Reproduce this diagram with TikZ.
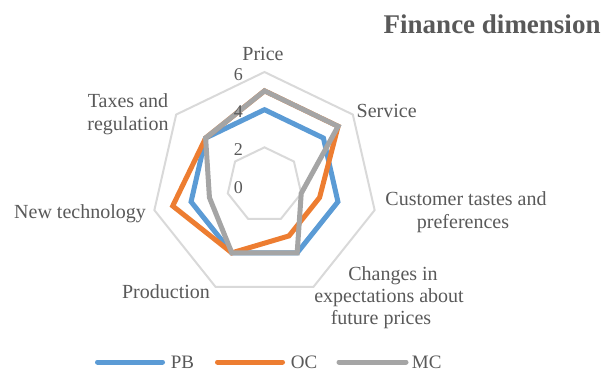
\documentclass[tikz,border=0pt]{standalone}
\usepackage{fontspec}
\setmainfont{Liberation Serif}
\definecolor{pbc}{HTML}{5B9BD5}
\definecolor{occ}{HTML}{ED7D31}
\definecolor{mcc}{HTML}{A5A5A5}
\definecolor{txt}{HTML}{595959}
\definecolor{gridc}{HTML}{D9D9D9}
\begin{document}
\begin{tikzpicture}[x=1pt,y=-1pt,
  gridline/.style={draw=gridc,line width=2pt,line join=miter},
  series/.style={line width=5pt,line join=miter,miter limit=3},
  lbl/.style={font=\fontsize{20}{23}\selectfont,text=txt,inner sep=0pt,anchor=base},
  tick/.style={font=\fontsize{18}{20}\selectfont,text=txt,inner sep=0pt,anchor=base},
  leg/.style={line width=5pt,line cap=round},
  legtxt/.style={font=\fontsize{19}{22}\selectfont,text=txt,inner sep=0pt,anchor=base west}]
\useasboundingbox (0,0) rectangle (604,372);
\def\U{18.83}
\begin{scope}[shift={(264.5,185)}]
  \foreach \r in {2,4,6}
    \draw[gridline] (-90:{\r*\U}) \foreach \k in {1,...,6}{ -- ({-90+\k*360/7}:{\r*\U}) } -- cycle;
  % PB
  \draw[series,draw=pbc] (-90:{4*\U}) \foreach \v [count=\k] in {4,4,4,4,4,4}{ -- ({-90+\k*360/7}:{\v*\U}) } -- cycle;
  % OC
  \draw[series,draw=occ] (-90:{5*\U}) \foreach \v [count=\k] in {5,3,3,4,5,4}{ -- ({-90+\k*360/7}:{\v*\U}) } -- cycle;
  % MC
  \draw[series,draw=mcc] (-90:{5*\U}) \foreach \v [count=\k] in {5,2,4,4,3,4}{ -- ({-90+\k*360/7}:{\v*\U}) } -- cycle;
\end{scope}
% tick labels
\node[tick] (t6) at (238.3,80) {6};
\node[tick] (t4) at (238.3,117.7) {4};
\node[tick] (t2) at (238.3,155.4) {2};
\node[tick] (t0) at (238.3,193) {0};
% axis labels
\node[lbl] (lprice) at (263,60.7) {Price};
\node[lbl] (lserv) at (386.7,117) {Service};
\node[lbl] (lcust1) at (466,205) {Customer tastes and};
\node[lbl] (lcust2) at (463,228) {preferences};
\node[lbl] (lchg1) at (393,280) {Changes in};
\node[lbl] (lchg2) at (389,302) {expectations about};
\node[lbl] (lchg3) at (381,324) {future prices};
\node[lbl] (lprod) at (166,298) {Production};
\node[lbl] (lnew) at (80,218) {New technology};
\node[lbl] (ltax1) at (128,107) {Taxes and};
\node[lbl] (ltax2) at (128,130) {regulation};
% title
\node[font=\fontsize{27}{30}\selectfont\bfseries,text=txt,inner sep=0pt,anchor=base east] (title) at (600.7,33) {Finance dimension};
% legend
\coordinate (pba) at (97.5,362); \coordinate (pbb) at (162.5,362);
\coordinate (oca) at (217.5,362); \coordinate (ocb) at (282.5,362);
\coordinate (mca) at (339,362); \coordinate (mcb) at (406,362);
\draw[leg,draw=pbc] (pba) -- (pbb);
\draw[leg,draw=occ] (oca) -- (ocb);
\draw[leg,draw=mcc] (mca) -- (mcb);
\node[legtxt] (lpb) at (170.7,368.3) {PB};
\node[legtxt] (loc) at (290.7,368.3) {OC};
\node[legtxt] (lmc) at (411.7,368.3) {MC};
\end{tikzpicture}
\end{document}
